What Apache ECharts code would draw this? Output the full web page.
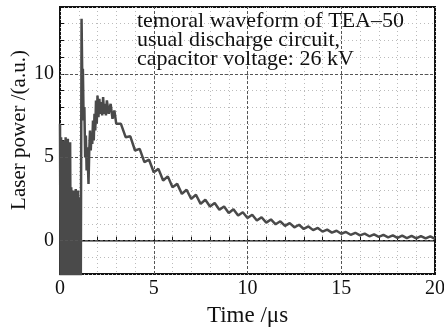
<!DOCTYPE html>
<html>
<head>
<meta charset="utf-8">
<script src="https://cdn.jsdelivr.net/npm/echarts@6/dist/echarts.min.js"></script>
<style>
  html, body { margin: 0; padding: 0; background: #fff; }
  #chart { width: 444px; height: 327px; }
</style>
</head>
<body>
<div id="chart"></div>
<script>
// time axis of the trace, in microseconds
var timeUs = [
  0.00, 0.03, 0.06, 0.09, 0.12, 0.15, 0.18, 0.21, 0.24, 0.27,
  0.30, 0.33, 0.36, 0.39, 0.42, 0.45, 0.48, 0.51, 0.54, 0.57,
  0.60, 0.63, 0.66, 0.69, 0.72, 0.75, 0.78, 0.81, 0.84, 0.87,
  0.90, 0.93, 0.96, 0.99, 1.02, 1.05, 1.08, 1.11, 1.15,
  1.19, 1.22, 1.26, 1.30, 1.34, 1.38, 1.42, 1.46, 1.52, 1.56,
  1.60, 1.64, 1.68, 1.72, 1.76, 1.80, 1.84, 1.88, 1.92, 1.96,
  2.00, 2.05, 2.10, 2.15, 2.20, 2.25, 2.30, 2.35, 2.40, 2.45,
  2.50, 2.60, 2.70, 2.80, 2.90, 3.00,
  3.25, 3.50, 3.75, 4.00, 4.25, 4.50, 4.75, 5.00, 5.25, 5.50,
  5.75, 6.00, 6.25, 6.50, 6.75, 7.00, 7.25, 7.50, 7.75, 8.00,
  8.25, 8.50, 8.75, 9.00, 9.25, 9.50, 9.75, 10.0, 10.25, 10.5,
  10.75, 11.0, 11.25, 11.5, 11.75, 12.0, 12.25, 12.5, 12.75, 13.0,
  13.25, 13.5, 13.75, 14.0, 14.25, 14.5, 14.75, 15.0, 15.25, 15.5,
  15.75, 16.0, 16.25, 16.5, 16.75, 17.0, 17.25, 17.5, 17.75, 18.0,
  18.25, 18.5, 18.75, 19.0, 19.25, 19.5, 19.75, 20.0
];
// laser power (a.u.), same length as timeUs
var laserPower = [
  7.0, -2.2, 6.2, -2.3, 5.5, -2.0, 6.0, -2.3, 4.8, -2.2,
  6.2, -1.8, 5.6, -2.3, 6.1, -2.1, 4.5, -2.3, 5.9, -2.0,
  3.2, -2.3, 2.6, -2.1, 3.0, -2.3, 2.2, -2.0, 3.1, -2.3,
  2.5, -2.2, 3.0, -2.3, 2.6, -2.2, 1.5, -2.2, 13.3,
  9.5, 10.3, 7.2, 8.0, 5.0, 6.3, 4.2, 5.6, 3.4, 5.4,
  6.6, 5.4, 6.4, 5.8, 7.2, 6.0, 7.6, 6.6, 8.4, 7.0,
  8.7, 7.4, 8.5, 7.6, 8.3, 7.5, 8.6, 7.6, 8.2, 7.5,
  8.4, 7.6, 8.2, 7.3, 7.8, 7.0,
  7.0, 6.2, 6.25, 5.4, 5.5, 4.7, 4.85, 4.1, 4.3, 3.6,
  3.85, 3.2, 3.4, 2.8, 3.05, 2.5, 2.75, 2.2, 2.45, 2.05,
  2.25, 1.85, 2.05, 1.65, 1.88, 1.5, 1.7, 1.36, 1.55, 1.21,
  1.4, 1.08, 1.27, 0.98, 1.16, 0.88, 1.05, 0.8, 0.95, 0.7,
  0.85, 0.63, 0.76, 0.54, 0.66, 0.48, 0.59, 0.41, 0.52, 0.35,
  0.47, 0.31, 0.42, 0.26, 0.38, 0.23, 0.35, 0.2, 0.32, 0.17,
  0.3, 0.15, 0.28, 0.13, 0.27, 0.13, 0.26, 0.11
];
// zero-level baseline trace
var baselineTime = [1.1, 20];
var baselineValue = [0, 0];

var majorX = [5, 10, 15];
var majorY = [0, 5, 10];
var xLabels = [0, 5, 10, 15, 20];
var yLabels = [0, 5, 10];

var infoLines = [
  'temoral waveform of TEA\u201350',
  'usual discharge circuit,',
  'capacitor voltage: 26 kV'
];
var yTitle = 'Laser power /(a.u.)';

var serif = '"Liberation Serif", "DejaVu Serif", serif';

var myChart = echarts.init(document.getElementById('chart'));

var traceData = timeUs.map(function (t, i) { return [t, laserPower[i]]; });
var baseData = baselineTime.map(function (t, i) { return [t, baselineValue[i]]; });

var majorLines = majorX.map(function (v) { return { xAxis: v }; })
  .concat(majorY.map(function (v) { return { yAxis: v }; }));

var boxText = infoLines.map(function (line, i) {
  return {
    type: 'text',
    left: 137,
    top: 10 + i * 19,
    z: 10,
    style: {
      text: line,
      font: 'normal 22px ' + serif,
      fill: '#111'
    }
  };
});

var option = {
  animation: false,
  backgroundColor: '#fff',
  grid: {
    left: 60,
    right: 9,
    top: 7,
    bottom: 53,
    outerBoundsMode: 'none',
    containLabel: false,
    show: true,
    borderColor: '#111',
    borderWidth: 2
  },
  xAxis: {
    type: 'value',
    min: 0,
    max: 20,
    interval: 1,
    name: 'Time /\u03bcs',
    nameLocation: 'middle',
    nameGap: 30,
    nameTextStyle: { fontFamily: serif, fontSize: 23, color: '#111' },
    axisLine: { show: false },
    axisTick: { inside: true, length: 4, lineStyle: { color: '#111' } },
    axisLabel: {
      margin: 5,
      fontFamily: serif,
      fontSize: 20,
      color: '#111',
      formatter: function (v) { return xLabels.indexOf(v) >= 0 ? String(v) : ''; }
    },
    splitLine: { show: true, lineStyle: { color: '#bbb', type: [1, 3], width: 1 } }
  },
  yAxis: {
    type: 'value',
    min: -2,
    max: 14,
    interval: 1,
    axisLine: { show: false },
    axisTick: { inside: true, length: 4, lineStyle: { color: '#111' } },
    axisLabel: {
      margin: 6,
      fontFamily: serif,
      fontSize: 20,
      color: '#111',
      formatter: function (v) { return yLabels.indexOf(v) >= 0 ? String(v) : ''; }
    },
    splitLine: { show: true, lineStyle: { color: '#bbb', type: [1, 3], width: 1 } }
  },
  graphic: boxText.concat([{
    type: 'text',
    x: 19,
    y: 130,
    rotation: Math.PI / 2,
    z: 10,
    style: {
      text: yTitle,
      font: 'normal 21px ' + serif,
      fill: '#111',
      align: 'center',
      verticalAlign: 'middle'
    }
  }]),
  series: [
    {
      name: 'baseline',
      type: 'line',
      data: baseData,
      symbol: 'none',
      silent: true,
      z: 3,
      lineStyle: { color: '#111', width: 1.5 },
      markLine: {
        silent: true,
        symbol: 'none',
        label: { show: false },
        lineStyle: { color: '#555', type: [3, 2], width: 1 },
        data: majorLines
      }
    },
    {
      name: 'trace',
      type: 'line',
      data: traceData,
      symbol: 'none',
      z: 4,
      lineStyle: { color: '#4a4a4a', width: 2.5 }
    }
  ]
};

myChart.setOption(option);
</script>
</body>
</html>
